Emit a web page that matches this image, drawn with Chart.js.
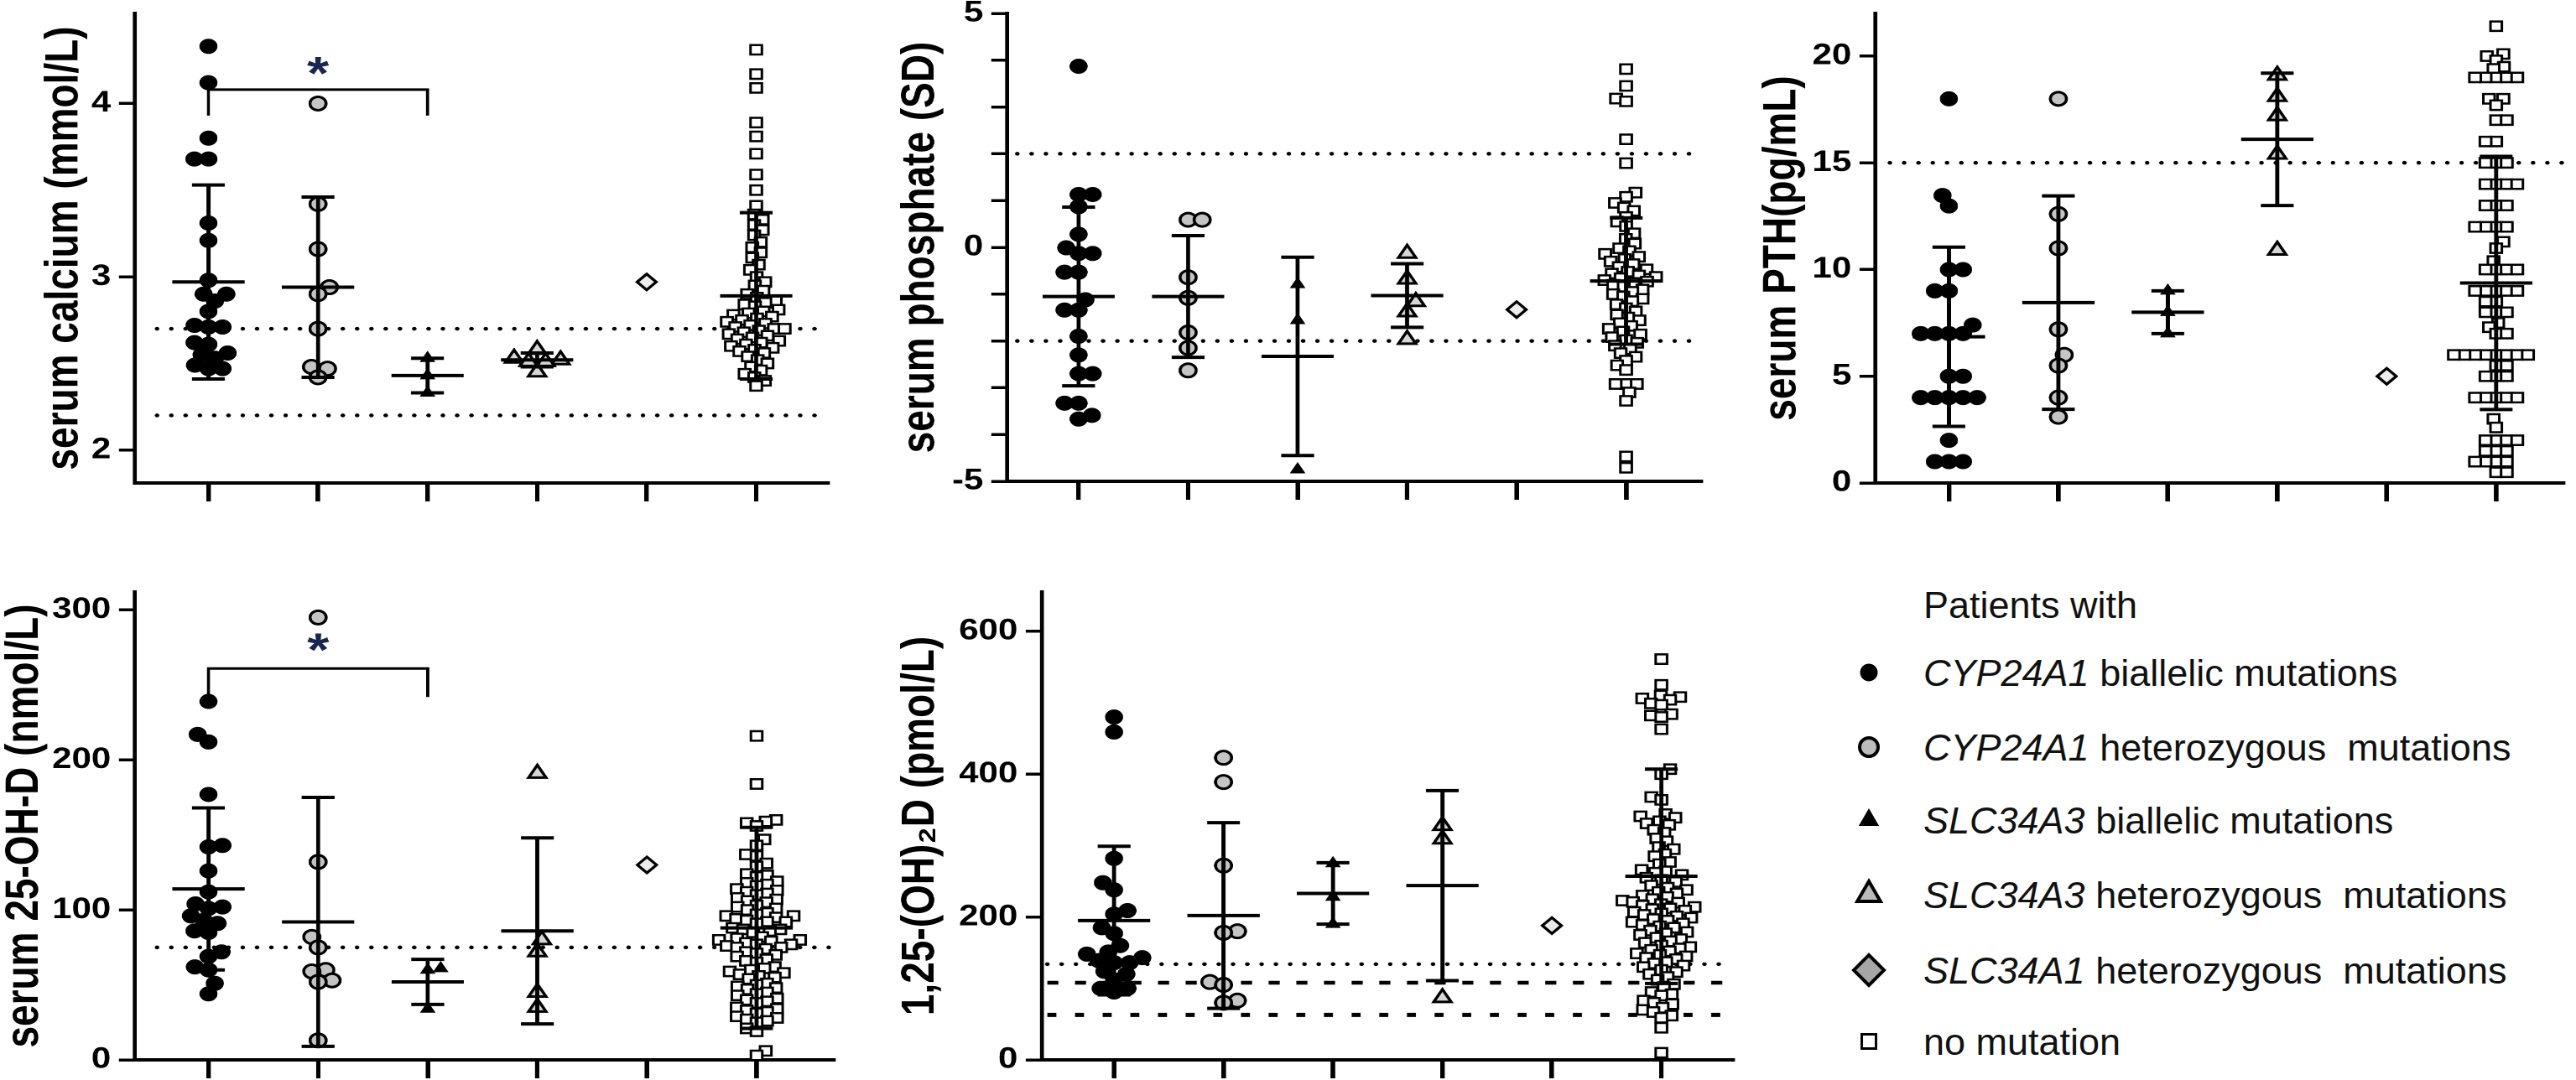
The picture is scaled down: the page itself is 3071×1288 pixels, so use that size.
<!DOCTYPE html>
<html>
<head>
<meta charset="utf-8">
<title>Serum parameters by mutation group</title>
<script src="https://cdn.jsdelivr.net/npm/chart.js@4.4.1/dist/chart.umd.min.js"></script>
<style>
  html, body { margin: 0; padding: 0; background: #fff; }
  #page { position: relative; width: 3071px; height: 1288px; overflow: hidden; background: #fff; }
  #page canvas { position: absolute; }
  .legend-text {
    position: absolute;
    font-family: "Liberation Sans", Arial, sans-serif;
    font-size: 45px;
    line-height: 45px;
    color: #111;
    white-space: pre;
  }
</style>
</head>
<body>
<div id="page"></div>
<script>
const FONT = "'Liberation Sans', Arial, sans-serif";
Chart.defaults.font.family = FONT;
Chart.defaults.color = "#000";

const groups = [1, 2, 3, 4, 5, 6];
const groupNames = ["CYP24A1 biallelic", "CYP24A1 heterozygous", "SLC34A3 biallelic",
  "SLC34A3 heterozygous", "SLC34A1 heterozygous", "no mutation"];

// serum calcium (mmol/L)
const caCypBi = [4.33, 4.12, 3.80, 3.68, 3.68, 3.31, 3.21, 2.98, 2.90, 2.90, 2.86, 2.80, 2.72, 2.71, 2.71, 2.62, 2.61, 2.56, 2.55, 2.53, 2.49, 2.47, 2.47];
const caCypHet = [4.00, 3.42, 3.16, 2.94, 2.90, 2.70, 2.48, 2.47, 2.42];
const caSlc3Bi = [2.53, 2.43, 2.33];
const caSlc3Het = [2.58, 2.53, 2.52, 2.51, 2.51, 2.45];
const caSlc1Het = [2.97];
const caNoMut = [4.31, 4.17, 4.09, 3.89, 3.81, 3.71, 3.59, 3.50, 3.41, 3.36, 3.33, 3.30, 3.27, 3.24, 3.20, 3.17, 3.14, 3.11, 3.07, 3.04, 3.00, 2.97, 2.95, 2.92, 2.90, 2.88, 2.86, 2.85, 2.84, 2.83, 2.81, 2.80, 2.79, 2.78, 2.77, 2.76, 2.75, 2.74, 2.73, 2.72, 2.71, 2.70, 2.70, 2.69, 2.68, 2.67, 2.66, 2.65, 2.64, 2.63, 2.62, 2.61, 2.60, 2.59, 2.58, 2.57, 2.56, 2.54, 2.52, 2.50, 2.48, 2.46, 2.44, 2.42, 2.40, 2.37];
const caMean = [2.97, 2.94, 2.43, 2.52, null, 2.89];
const caSd = [0.56, 0.52, 0.10, 0.04, null, 0.48];
const caTicks = [2, 3, 4];
const caRef = [2.7, 2.2];
const caSigPair = [1, 3];
const caSigLevels = [3.93, 4.08, 4.24];

// serum phosphate (SD)
const phCypBi = [3.87, 1.13, 1.13, 0.87, 0.28, -0.01, -0.13, -0.13, -0.53, -0.53, -1.12, -1.34, -1.34, -1.90, -2.30, -2.70, -2.70, -3.33, -3.33, -3.59, -3.67];
const phCypHet = [0.59, 0.59, -0.64, -1.08, -1.82, -2.15, -2.63];
const phSlc3Bi = [-0.79, -1.56, -4.75];
const phSlc3Het = [-0.13, -0.68, -1.16, -1.38, -1.97];
const phSlc1Het = [-1.33];
const phNoMut = [3.81, 3.45, 3.18, 3.12, 2.31, 1.80, 1.17, 1.08, 0.95, 0.85, 0.78, 0.65, 0.55, 0.45, 0.30, 0.18, 0.08, -0.02, -0.08, -0.14, -0.20, -0.25, -0.30, -0.36, -0.42, -0.47, -0.52, -0.56, -0.60, -0.63, -0.66, -0.70, -0.73, -0.76, -0.80, -0.84, -0.90, -0.95, -1.00, -1.05, -1.10, -1.15, -1.22, -1.30, -1.37, -1.44, -1.50, -1.56, -1.62, -1.68, -1.74, -1.80, -1.86, -1.92, -1.98, -2.04, -2.10, -2.18, -2.26, -2.34, -2.42, -2.52, -2.62, -2.92, -2.92, -2.92, -3.10, -3.28, -4.47, -4.71];
const phMean = [-1.05, -1.05, -2.33, -1.03, null, -0.72];
const phSd = [1.91, 1.30, 2.12, 0.68, null, 1.35];
const phTicks = [-5, -4, -3, -2, -1, 0, 1, 2, 3, 4, 5];
const phLabels = [-5, 0, 5];
const phRef = [2, -2];

// serum PTH (pg/mL)
const pthCypBi = [18, 13.47, 12.98, 10, 10, 9, 9, 7.4, 7, 7, 7, 7, 5, 5, 4, 4, 4, 4, 4, 2, 1, 1, 1];
const pthCypHet = [18, 12.6, 11, 7.2, 6, 5.5, 4, 3.1];
const pthSlc3Bi = [9, 8, 7];
const pthSlc3Het = [19.1, 18.1, 17.2, 15.4, 10.9];
const pthSlc1Het = [5];
const pthNoMut = [21.4, 20.1, 20.0, 19.8, 19.5, 19.4, 19.0, 19.0, 19.0, 19.0, 19.0, 18.0, 18.0, 17.7, 17.0, 17.0, 16.0, 16.0, 15.0, 15.0, 15.0, 14.0, 14.0, 14.0, 14.0, 13.0, 13.0, 13.0, 12.0, 12.0, 12.0, 12.0, 11.3, 11.0, 10.4, 10.0, 10.0, 10.0, 10.0, 9.0, 9.0, 9.0, 9.0, 9.0, 8.5, 8.5, 8.0, 8.0, 8.0, 7.5, 7.3, 7.0, 7.0, 6.0, 6.0, 6.0, 6.0, 6.0, 6.0, 6.0, 6.0, 5.5, 5.5, 5.0, 5.0, 5.0, 4.0, 4.0, 4.0, 4.0, 4.0, 3.0, 2.6, 2.0, 2.0, 2.0, 2.0, 1.5, 1.5, 1.5, 1.0, 1.0, 1.0, 1.0, 0.5, 0.5];
const pthMean = [6.85, 8.45, 8.0, 16.1, null, 9.37];
const pthSd = [4.2, 5.0, 1.0, 3.1, null, 5.93];
const pthTicks = [0, 5, 10, 15, 20];
const pthRef = [15];

// serum 25-OH-D (nmol/L)
const dCypBi = [239, 217, 212, 177, 143, 142, 126, 112, 104, 102, 101, 96, 93, 91, 86, 85, 72, 69, 62, 60, 51, 44];
const dCypHet = [295, 132, 82, 75, 60, 59, 53, 52, 13];
const dSlc3Bi = [61, 60, 34];
const dSlc3Het = [191, 80, 72, 45, 35];
const dSlc1Het = [130];
const dNoMut = [216, 184, 160, 159, 158, 156, 147, 143, 137, 136, 131, 129, 124, 123, 122, 119, 118, 117, 116, 114, 113, 112, 111, 110, 108, 107, 106, 105, 103, 102, 101, 100, 98, 97, 96, 96, 95, 94, 93, 92, 92, 91, 88, 87, 87, 86, 85, 82, 81, 80, 80, 79, 78, 77, 77, 76, 75, 75, 74, 72, 71, 70, 69, 67, 66, 65, 62, 61, 60, 59, 58, 57, 56, 55, 54, 51, 50, 49, 48, 47, 45, 44, 43, 41, 40, 39, 38, 35, 34, 33, 32, 31, 29, 28, 27, 26, 25, 21, 19, 6, 3];
const dMean = [114, 92, 52, 86, null, 88];
const dSd = [54, 83, 15, 62, null, 67];
const dTicks = [0, 100, 200, 300];
const dRef = [75];
const dSigPair = [1, 3];
const dSigLevels = [242, 261, 281];

// 1,25-(OH)2D (pmol/L)
const vdCypBi = [480, 459, 282, 248, 238, 209, 204, 185, 177, 160, 151, 148, 143, 139, 136, 136, 124, 120, 112, 100, 100, 95];
const vdCypHet = [423, 389, 272, 180, 178, 109, 105, 83, 80];
const vdSlc3Bi = [275, 228, 190];
const vdSlc3Het = [328, 309, 87];
const vdSlc1Het = [188];
const vdNoMut = [561, 525, 510, 508, 506, 504, 499, 497, 484, 482, 480, 463, 407, 400, 368, 364, 344, 341, 339, 334, 331, 329, 322, 318, 310, 306, 298, 295, 288, 285, 277, 274, 266, 264, 262, 259, 255, 252, 249, 244, 241, 238, 235, 233, 230, 228, 225, 223, 221, 220, 218, 216, 214, 212, 211, 209, 207, 205, 203, 201, 199, 197, 195, 193, 191, 189, 187, 185, 181, 179, 177, 175, 171, 169, 166, 164, 160, 158, 156, 154, 152, 149, 147, 145, 143, 141, 137, 135, 132, 130, 126, 123, 120, 116, 112, 106, 102, 95, 92, 90, 83, 80, 78, 73, 70, 67, 62, 59, 45, 10];
const vdMean = [195, 202, 233, 244, null, 257];
const vdSd = [104, 130, 43, 133, null, 150];
const vdTicks = [0, 200, 400, 600];
const vdRef = [134, 108, 63];

// legend
const legendTitle = "Patients with";
const legendGenes = ["CYP24A1", "CYP24A1", "SLC34A3", "SLC34A3", "SLC34A1", ""];
const legendKinds = [" biallelic mutations", " heterozygous  mutations", " biallelic mutations",
  " heterozygous  mutations", " heterozygous  mutations", "no mutation"];

// ---- look ----
const SX = 1.2; // the panels are a little wider than tall in the original
const markers = [
  { pointStyle: "circle", radius: 8.5, fill: "#000", border: 1, gap: 14 },
  { pointStyle: "circle", radius: 8, fill: "#c4c4c4", border: 3, gap: 14 },
  { pointStyle: "triangle", radius: 8, fill: "#000", border: 1, gap: 13 },
  { pointStyle: "triangle", radius: 10, fill: "#d6d6d6", border: 3, gap: 15 },
  { pointStyle: "rectRot", radius: 9.5, fill: "#ececec", border: 3, gap: 16 },
  { pointStyle: "rect", radius: 8, fill: "#fff", border: 2.5, gap: 10.5 },
];
const legendMarkers = [
  { pointStyle: "circle", radius: 10, fill: "#000", border: 1 },
  { pointStyle: "circle", radius: 11, fill: "#bdbdbd", border: 4 },
  { pointStyle: "triangle", radius: 13, fill: "#000", border: 1 },
  { pointStyle: "triangle", radius: 16, fill: "#bbbbbb", border: 4 },
  { pointStyle: "rectRot", radius: 18, fill: "#a6a6a6", border: 4 },
  { pointStyle: "rect", radius: 12, fill: "#fff", border: 3 },
];
const dashes = { dot: [0.1, 14.1], dash: [11, 16.5], shortdash: [9, 18.5] };

const panels = [
  { title: "serum calcium (mmol/L)", series: [caCypBi, caCypHet, caSlc3Bi, caSlc3Het, caSlc1Het, caNoMut],
    mean: caMean, sd: caSd, ticks: caTicks, refs: caRef, refStyle: ["dot", "dot"],
    sigPair: caSigPair, sigLevels: caSigLevels, x: [0.33, 6.65], y: [1.81, 4.52], refFrom: 0.53,
    box: { left: 0, top: 0, right: 1002, axisX: 161, plotTop: 16, plotBottom: 576, plotRight: 996, titleX: 77, xH: 30 } },
  { title: "serum phosphate (SD)", series: [phCypBi, phCypHet, phSlc3Bi, phSlc3Het, phSlc1Het, phNoMut],
    mean: phMean, sd: phSd, ticks: phTicks, labels: phLabels, refs: phRef, refStyle: ["dot", "dot"],
    x: [0.35, 6.68], y: [-5, 5], refFrom: 0.44,
    box: { left: 1040, top: 0, right: 2043, axisX: 1201, plotTop: 16, plotBottom: 574, plotRight: 2037, titleX: 1098, xH: 30 } },
  { title: "serum PTH(pg/mL)", series: [pthCypBi, pthCypHet, pthSlc3Bi, pthSlc3Het, pthSlc1Het, pthNoMut],
    mean: pthMean, sd: pthSd, ticks: pthTicks, refs: pthRef, refStyle: ["dot"],
    x: [0.33, 6.61], y: [0, 22], refFrom: 0.46,
    box: { left: 2075, top: 0, right: 3071, axisX: 2236, plotTop: 16, plotBottom: 576, plotRight: 3064, titleX: 2125, xH: 30 } },
  { title: "serum 25-OH-D (nmol/L)", series: [dCypBi, dCypHet, dSlc3Bi, dSlc3Het, dSlc1Het, dNoMut],
    mean: dMean, sd: dSd, ticks: dTicks, refs: dRef, refStyle: ["dot"],
    sigPair: dSigPair, sigLevels: dSigLevels, x: [0.33, 6.70], y: [0, 312], refFrom: 0.53,
    box: { left: 0, top: 640, right: 1009, axisX: 161, plotTop: 706, plotBottom: 1264, plotRight: 1003, titleX: 30, xH: 24 } },
  { title: "1,25-(OH)\u2082D (pmol/L)", series: [vdCypBi, vdCypHet, vdSlc3Bi, vdSlc3Het, vdSlc1Het, vdNoMut],
    mean: vdMean, sd: vdSd, ticks: vdTicks, refs: vdRef, refStyle: ["dot", "dash", "shortdash"],
    x: [0.34, 6.65], y: [0, 655], refFrom: 0.39,
    box: { left: 1040, top: 640, right: 2081, axisX: 1242, plotTop: 706, plotBottom: 1264, plotRight: 2075, titleX: 1098, xH: 24 } },
];

// spread points of one group sideways so they do not sit on each other
const swarm = {
  id: "swarm",
  afterDatasetsUpdate(chart) {
    chart.data.datasets.forEach((ds, i) => {
      if (!ds.swarm) return;
      const d = ds.swarm;
      const pts = chart.getDatasetMeta(i).data.slice().sort((a, b) => b.y - a.y);
      const placed = [];
      let side = 1;
      pts.forEach((p) => {
        const near = placed.filter((q) => Math.abs(q.y - p.y) < d);
        const cands = [0];
        near.forEach((q) => {
          const w = Math.sqrt(d * d - (q.y - p.y) ** 2);
          cands.push(q.off - w, q.off + w);
        });
        const ok = (c) => near.every((q) => (c - q.off) ** 2 + (q.y - p.y) ** 2 >= d * d - 0.05);
        cands.sort((a, b) => Math.abs(a) - Math.abs(b) || b * side - a * side);
        const off = cands.find(ok) || 0;
        if (off !== 0) side = off > 0 ? -1 : 1;
        placed.push({ y: p.y, off: off });
        p.x += off;
      });
    });
  },
};

const sigStar = {
  id: "sigStar",
  afterDatasetsDraw(chart, args, opts) {
    if (!opts || opts.y == null) return;
    const { ctx, scales } = chart;
    const x = scales.x.getPixelForValue(opts.x);
    const y = scales.y.getPixelForValue(opts.y);
    ctx.save();
    ctx.font = "bold 56px " + FONT;
    ctx.fillStyle = "#1b2550";
    ctx.textAlign = "center";
    ctx.textBaseline = "alphabetic";
    ctx.fillText("*", x, y + 56 * 0.58);
    ctx.restore();
  },
};

function whiskers(means, sds) {
  const pts = [];
  means.forEach((m, i) => {
    if (m === null) return;
    const g = groups[i], s = sds[i];
    pts.push({ x: g - 0.33, y: m }, { x: g + 0.33, y: m }, { x: g, y: null });
    pts.push({ x: g, y: m - s }, { x: g, y: m + s }, { x: g, y: null });
    pts.push({ x: g - 0.15, y: m + s }, { x: g + 0.15, y: m + s }, { x: g, y: null });
    pts.push({ x: g - 0.15, y: m - s }, { x: g + 0.15, y: m - s }, { x: g, y: null });
  });
  return pts;
}

const page = document.getElementById("page");

function makePanel(p) {
  const b = p.box;
  const cssW = b.right - b.left;
  const w = Math.round(cssW / SX);
  const sx = cssW / w;
  const h = b.plotBottom - b.top + b.xH;
  const canvas = document.createElement("canvas");
  canvas.width = w;
  canvas.height = h;
  canvas.style.left = b.left + "px";
  canvas.style.top = b.top + "px";
  canvas.style.width = cssW + "px";
  canvas.style.height = h + "px";
  page.appendChild(canvas);

  const axisW = (b.axisX - b.left) / sx;
  const padRight = (b.right - b.plotRight) / sx;
  const titlePad = (b.titleX - b.left) / sx - (46 * 1.2) / 2;

  const datasets = [];
  datasets.push({
    label: "mean ± SD", data: whiskers(p.mean, p.sd), showLine: true, spanGaps: false,
    borderColor: "#000", borderWidth: 4, borderCapStyle: "butt", pointRadius: 0, order: 0, clip: false,
  });
  p.series.forEach((vals, i) => {
    const m = markers[i];
    datasets.push({
      label: groupNames[i], data: vals.map((v) => ({ x: groups[i], y: v })),
      pointStyle: m.pointStyle, pointRadius: m.radius, pointBackgroundColor: m.fill,
      pointBorderColor: "#000", pointBorderWidth: m.border, swarm: m.gap, order: 1, clip: false,
    });
  });
  if (p.sigPair) {
    const [g1, g2] = p.sigPair;
    const [lo, hi] = p.sigLevels;
    datasets.push({
      label: "significance", data: [{ x: g1, y: lo }, { x: g1, y: hi }, { x: g2, y: hi }, { x: g2, y: lo }],
      showLine: true, borderColor: "#000", borderWidth: 3, pointRadius: 0, order: 0, clip: false,
    });
  }
  p.refs.forEach((v, k) => {
    const st = p.refStyle[k];
    datasets.push({
      label: "reference", data: [{ x: p.refFrom, y: v }, { x: p.x[1], y: v }],
      showLine: true, borderColor: "#000", borderWidth: st === "shortdash" ? 5 : 4.5,
      borderDash: dashes[st], borderCapStyle: st === "dot" ? "round" : "butt",
      pointRadius: 0, order: 2, clip: false,
    });
  });

  new Chart(canvas, {
    type: "scatter",
    data: { datasets: datasets },
    plugins: [swarm, sigStar],
    options: {
      responsive: false,
      animation: false,
      devicePixelRatio: 2,
      events: [],
      layout: { padding: { left: 0, top: b.plotTop - b.top, right: padRight, bottom: 0 } },
      plugins: {
        legend: { display: false },
        tooltip: { enabled: false },
        sigStar: p.sigPair ? { x: (p.sigPair[0] + p.sigPair[1]) / 2, y: p.sigLevels[2] } : {},
      },
      scales: {
        x: {
          type: "linear", min: p.x[0], max: p.x[1],
          afterBuildTicks: (s) => { s.ticks = groups.map((v) => ({ value: v })); },
          afterFit: (s) => { s.height = b.xH; s.paddingLeft = 0; s.paddingRight = 0; },
          ticks: { autoSkip: false, callback: () => "" },
          grid: { drawOnChartArea: false, drawTicks: true, tickLength: 22, lineWidth: 4.5, color: "#000" },
          border: { display: true, width: 4, color: "#000" },
        },
        y: {
          type: "linear", min: p.y[0], max: p.y[1],
          afterBuildTicks: (s) => { s.ticks = p.ticks.map((v) => ({ value: v })); },
          afterFit: (s) => { s.width = axisW; s.paddingTop = 0; s.paddingBottom = 0; },
          ticks: {
            autoSkip: false, padding: 8, color: "#000", font: { size: 35, weight: "bold" },
            callback: (v) => (!p.labels || p.labels.includes(v) ? String(v) : ""),
          },
          grid: { drawOnChartArea: false, drawTicks: true, tickLength: 16, lineWidth: 3.5, color: "#000" },
          border: { display: true, width: 4, color: "#000" },
          title: {
            display: true, text: p.title, color: "#000",
            font: { size: 46, weight: "bold" }, padding: { top: titlePad, bottom: 0 },
          },
        },
      },
    },
  });
}

panels.forEach(makePanel);

// legend on the lower right
const legendX = 2228, legendTextX = 2293;
const legendRows = [802, 891, 978, 1067, 1157, 1242];

function addText(html, left, centerY) {
  const div = document.createElement("div");
  div.className = "legend-text";
  div.style.left = left + "px";
  div.style.top = centerY - 22 + "px";
  div.innerHTML = html;
  page.appendChild(div);
}

function drawMarker(m, cx, cy) {
  const size = 60;
  const c = document.createElement("canvas");
  c.width = size * 2;
  c.height = size * 2;
  c.style.left = cx - size / 2 + "px";
  c.style.top = cy - size / 2 + "px";
  c.style.width = size + "px";
  c.style.height = size + "px";
  page.appendChild(c);
  const ctx = c.getContext("2d");
  ctx.scale(2, 2);
  ctx.fillStyle = m.fill;
  ctx.strokeStyle = "#000";
  ctx.lineWidth = m.border;
  Chart.helpers.drawPoint(ctx, { pointStyle: m.pointStyle, radius: m.radius, rotation: 0, borderWidth: m.border }, size / 2, size / 2);
}

addText(legendTitle, legendTextX, 721);
legendRows.forEach((y, i) => {
  drawMarker(legendMarkers[i], legendX, y);
  const gene = legendGenes[i] ? "<i>" + legendGenes[i] + "</i>" : "";
  addText(gene + legendKinds[i], legendTextX, y);
});
</script>
</body>
</html>
